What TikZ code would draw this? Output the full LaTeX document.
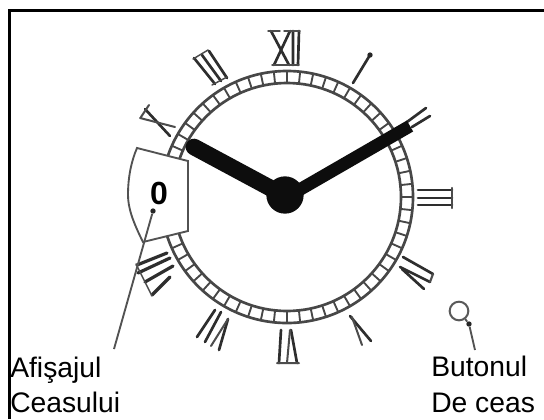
\documentclass[tikz,border=0pt]{standalone}
\usepackage{fontspec}
\setmainfont{Liberation Sans}
\usetikzlibrary{calc}
\tikzset{
  frameline/.style={line width=2.2pt,black},
  ringline/.style={line width=2pt,black!72},
  tickline/.style={line width=1.4pt,black!72},
  numeral/.style={line width=2pt,black!82,line cap=round},
  thinnum/.style={line width=1.1pt,black!70,line cap=round},
  leader/.style={line width=1.4pt,black!68},
  handline/.style={line width=12.5pt,black!95,line cap=round},
  label/.style={anchor=base west,inner sep=0pt,font=\fontsize{21.2pt}{24pt}\selectfont,text=black},
  dot/.style={circle,fill=black!85,inner sep=0pt,minimum size=4pt}
}
\begin{document}
\begin{tikzpicture}[x=.75pt,y=-.75pt]
\useasboundingbox (0,0) rectangle (544,419);
\fill[white] (0,0) rectangle (544,419);
\draw[frameline] (9.5,419) -- (9.5,10.5) -- (544,10.5);
\coordinate (c) at (287,197);
% ring
\draw[ringline] (c) circle[radius=94.5pt];
\draw[ringline] (c) circle[radius=85.5pt];
\foreach \a in {0,6,...,354}
  \draw[tickline] ($(c)+(\a:114)$) -- ($(c)+(\a:126)$);
% XII
\draw[numeral] (271,31)--(289,65) (290,31)--(274,65) (293,31)--(293,65) (299,31)--(298,65);
\draw[thinnum] (268,31)--(280,31) (284,31)--(300,31) (272,65)--(299,65);
% XI
\draw[numeral] (194,58)--(215,84) (209,51)--(227,78) (202,55)--(221,81);
\draw[thinnum] (193,59)--(208,50) (212,85)--(227,77);
% X
\draw[numeral] (145,109)--(170,136);
\draw[thinnum,line width=1.5pt] (140,118)--(175,127) (141,117)--(149,105);
% I
\draw[numeral] (370,55)--(353,83);
\node[dot] (d3) at (370,55) {};
% II
\draw[numeral] (426,108)--(407,122) (430,116)--(412,127);
% III
\draw[numeral] (418,190)--(452,190) (418,198)--(452,198) (418,205)--(452,205);
\draw[thinnum,line width=1.6pt] (452,188)--(452,208);
% IIII
\draw[numeral] (403,257)--(433,274) (400,267)--(430,282) (402,269)--(424,289);
\draw[thinnum,line width=1.6pt] (433,274)--(430,282);
% V
\draw[numeral] (350,316)--(371,341);
\draw[thinnum,line width=1.5pt] (352,317)--(362,345);
% VI
\draw[numeral] (281,330)--(279,363) (291,330)--(297,363);
\draw[thinnum,line width=1.5pt] (290,330)--(287,363) (277,363)--(299,363);
% VII
\draw[numeral] (215,310)--(197,337) (221,312)--(205,342) (228,319)--(219,350);
\draw[thinnum,line width=1.5pt] (228,319)--(211,346);
% VIII
\draw[numeral,line width=2.4pt] (167,253)--(137,265) (170,258)--(138,273) (173,266)--(145,282) (170,277)--(152,295);
\draw[thinnum] (136,264)--(152,296);
% hands
\draw[handline] (c) -- (194,147);
\draw[handline,line width=9.5pt,line cap=butt] (c) -- (410,126);
\node[circle,fill=black!95,minimum size=28pt,inner sep=0pt] (hub) at (285,195) {};
% display
\draw[leader,fill=white] (137,148) -- (188,161) -- (188,231) -- (143,242)
  .. controls (133,222) and (128,208) .. (128,195)
  .. controls (128,178) and (131,162) .. (137,148) -- cycle;
\node[inner sep=0pt,font=\bfseries\fontsize{24pt}{26pt}\selectfont] (zero) at (159,193) {0};
\node[dot] (d1) at (153,211) {};
\node[label] (a1) at (10,377) {Afişajul};
\node[label] (a2) at (10,412) {Ceasului};
\coordinate (e1) at (114,349);
\draw[leader] (d1) -- (e1);
% button
\node[circle,draw=black!65,line width=1.5pt,minimum size=14pt,inner sep=0pt] (btn) at (459,311) {};
\node[dot] (d2) at (469,324) {};
\coordinate (e2) at (475,350);
\draw[leader] (btn) -- (d2) -- (e2);
\node[label] (b1) at (431,376) {Butonul};
\node[label] (b2) at (431,412) {De ceas};
\end{tikzpicture}
\end{document}
